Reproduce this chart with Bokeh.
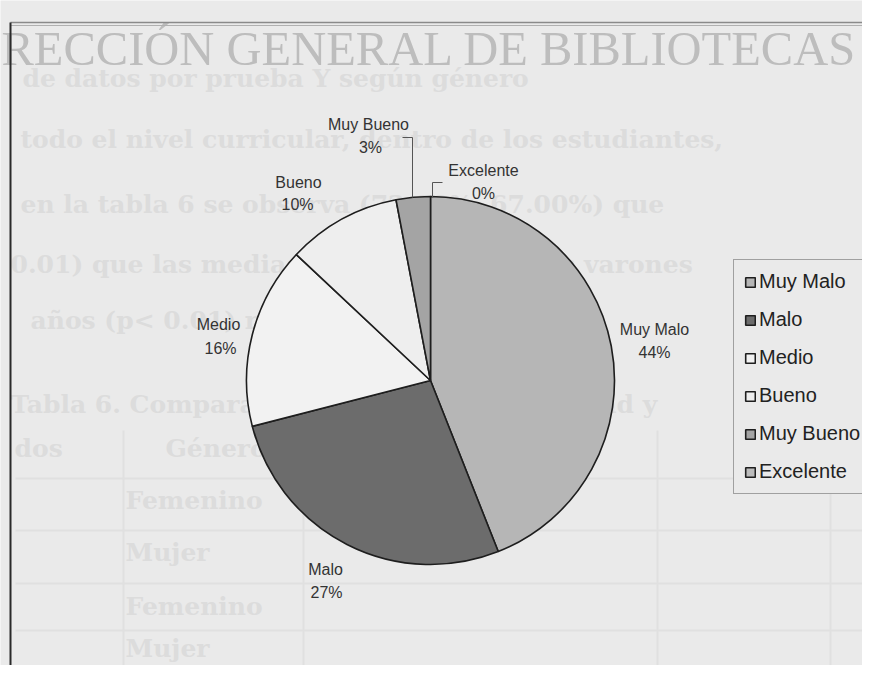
import numpy as np
from bokeh.plotting import figure
from bokeh.models import (Range1d, ColumnDataSource, Legend, LegendItem,
                          CDSView, BooleanFilter)
from bokeh.core.properties import value
from bokeh.embed import file_html
from bokeh.resources import INLINE

# ---- data ----
categories = ["Muy Malo", "Malo", "Medio", "Bueno", "Muy Bueno", "Excelente"]
percent = [44, 27, 16, 10, 3, 0]
colors = ["#b6b6b6", "#6c6c6c", "#f2f2f2", "#eeeeee", "#a4a4a4", "#bcbcbc"]

# label anchor positions (page pixels, layout only)
name_x = [654, 325, 218, 298, 368, 483]
name_y = [329, 569, 324, 182, 124, 170]
pct_x = [654, 326, 220, 297, 370, 483]
pct_y = [352, 592, 348, 204, 147, 193]

# faint bleed-through text from the scanned page
ghost_text = [
    "de datos por prueba Y según género",
    "todo el nivel curricular, dentro de los estudiantes,",
    "en la tabla 6 se observa (72.00%, 67.00%) que",
    "0.01) que las medias son mayores en los varones",
    "años (p< 0.01) respecto a las mujeres.",
    "Tabla 6. Comparación de medias según edad y",
    "dos", "Género",
    "Femenino", "Mujer", "Femenino", "Mujer",
]
ghost_x = [22, 20, 20, 10, 30, 10, 14, 165, 125, 125, 125, 125]
ghost_y = [78, 139, 204, 264, 320, 404, 448, 448, 500, 552, 606, 648]

W, H = 862, 665
BG = "#eaeaea"


def Y(v):
    return 681 - np.asarray(v, dtype=float)


p = figure(width=W, height=H, output_backend="svg", toolbar_location=None,
           x_range=Range1d(0, W), y_range=Range1d(681 - H, 681), min_border=0)
p.axis.visible = False
p.grid.visible = False
p.outline_line_color = None
p.background_fill_color = BG
p.border_fill_color = BG

# ghost text
p.text(x=ghost_x, y=Y(ghost_y), text=ghost_text, text_font=value("DejaVu Serif"),
       text_font_style="bold", text_font_size="25px", text_color="#dcdcdc",
       text_baseline="middle", text_align="left")

# faint table lines
for yy in [478, 530, 583, 630]:
    p.line([15, 862], Y([yy, yy]), line_color="#e0e0e0", line_width=2)
for xx in [123, 303, 657, 830]:
    p.line([xx, xx], Y([430, 681]), line_color="#e0e0e0", line_width=2)

# watermark heading
p.text(x=[1], y=Y([48]), text=["RECCIÓN GENERAL DE BIBLIOTECAS"],
       text_font=value("Liberation Serif"), text_font_size="48.5px",
       text_color="#bdbdbd", text_baseline="alphabetic", text_align="left")

# frame lines of the scanned page
p.line([10, 862], Y([22, 22]), line_color="#8a8a8a", line_width=1.5)
p.line([10, 862], Y([25, 25]), line_color="#b0b0b0", line_width=1)
p.line([10, 10], Y([22, 681]), line_color="#2a2a2a", line_width=2)

# pie
vals = np.array(percent, dtype=float)
frac = vals / vals.sum()
cum = np.cumsum(frac)
prev = np.concatenate([[0.0], cum[:-1]])
start = np.pi / 2 - 2 * np.pi * cum
end = np.pi / 2 - 2 * np.pi * prev

cx, cy, R = 430, 380, 184
n = len(categories)
src = ColumnDataSource(dict(x=[cx] * n, y=list(Y([cy] * n)),
                            start=start, end=end, color=colors, cat=categories))
nonzero = [bool(v > 0) for v in vals]
wedge_kw = dict(x="x", y="y", radius=R, start_angle="start", end_angle="end",
                fill_color="color", line_color="#1e1e1e", line_width=1.6,
                source=src)
p.wedge(view=CDSView(filter=BooleanFilter(nonzero)), **wedge_kw)
# full (hidden) renderer, used only for the legend swatches
legend_r = p.wedge(**wedge_kw)
legend_r.visible = False

# leader lines
p.line([402, 412, 412], Y([137, 137, 197]), line_color="#555555", line_width=1)
p.line([442, 432, 432], Y([182, 182, 197]), line_color="#555555", line_width=1)

# slice labels
p.text(x=name_x, y=Y(name_y), text=categories, text_font=value("Liberation Sans"),
       text_font_size="16px", text_color="#333333", text_align="center",
       text_baseline="middle")
p.text(x=pct_x, y=Y(pct_y), text=[f"{v:g}%" for v in percent],
       text_font=value("Liberation Sans"), text_font_size="16px",
       text_color="#333333", text_align="center", text_baseline="middle")

legend = Legend(items=[LegendItem(label=c, renderers=[legend_r], index=i)
                       for i, c in enumerate(categories)],
                location=(733, 171), label_text_font="Liberation Sans",
                label_text_font_size="20px", label_text_color="#222222",
                glyph_width=12, glyph_height=12, label_height=20,
                label_standoff=3, spacing=15, padding=10, margin=0,
                border_line_color="#555555", border_line_width=1,
                background_fill_color=BG, background_fill_alpha=1.0)
p.add_layout(legend)

open("out.html", "w").write(file_html(p, INLINE))
